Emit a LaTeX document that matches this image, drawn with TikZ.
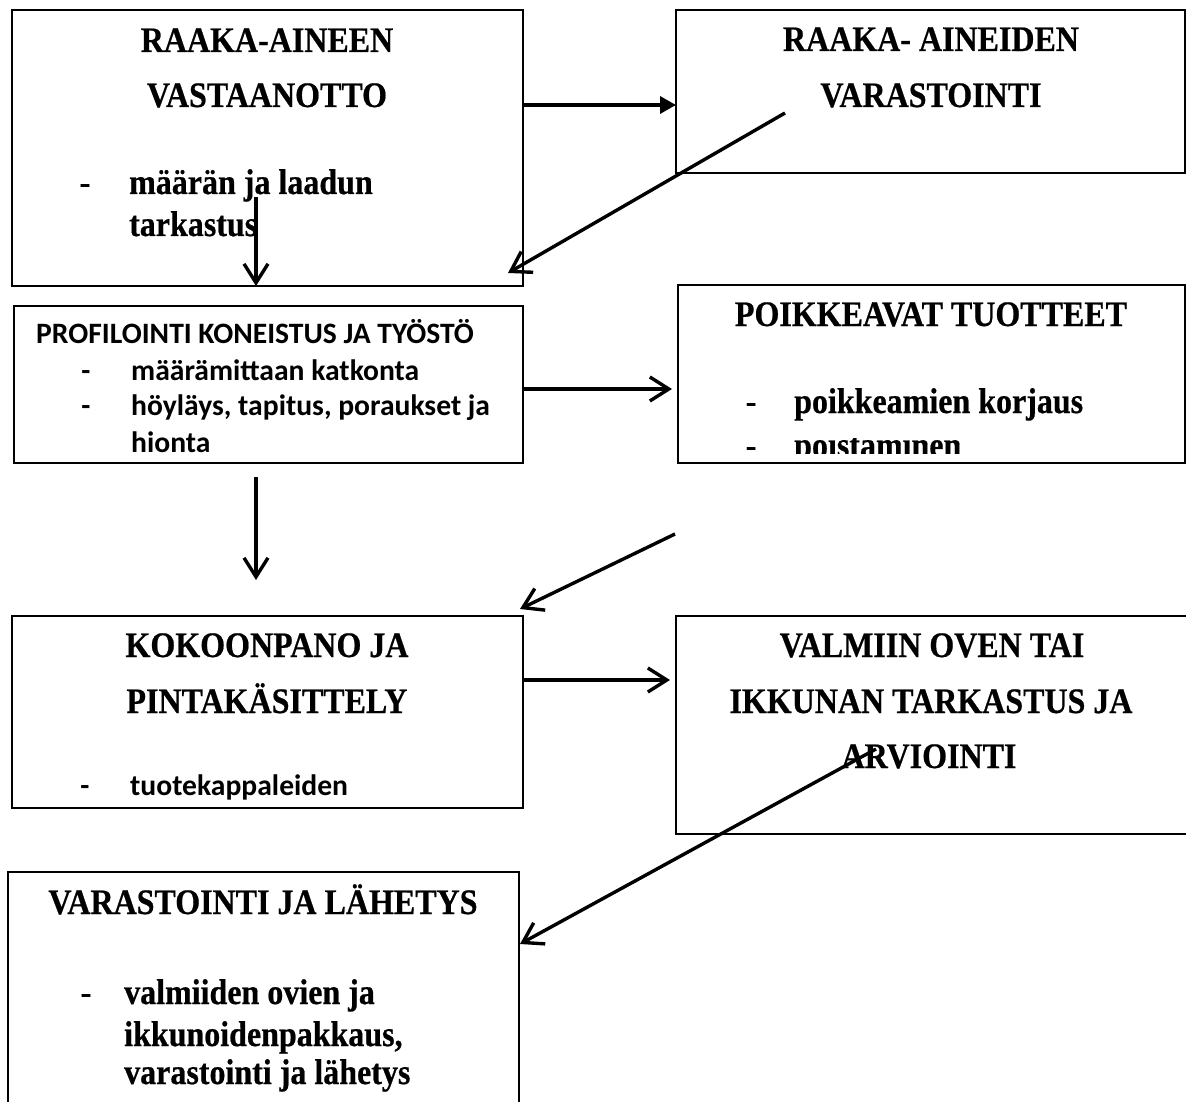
\documentclass[tikz,border=0pt]{standalone}
\usepackage{graphicx}
\usepackage{fontspec}
\setmainfont{Liberation Serif}[BoldFeatures={FakeBold=0.6}]
\newfontfamily\calib{Carlito}
\usetikzlibrary{arrows.meta}
\newcommand{\vs}[1]{\scalebox{1}[1.12]{#1}}
\tikzset{
  box/.style={draw=black, line width=2pt, inner sep=0pt, outer sep=0pt, anchor=north west, fill=none},
  ttl/.style={anchor=base, inner sep=0pt, font=\fontsize{32}{38}\selectfont\bfseries},
  itm/.style={anchor=base west, inner sep=0pt, font=\fontsize{32}{38}\selectfont\bfseries},
  citm/.style={anchor=base west, inner sep=0pt, font=\calib\fontsize{29.6}{33}\selectfont\bfseries},
  dsh/.style={anchor=base, inner sep=0pt, font=\fontsize{32}{38}\selectfont\bfseries},
  cdsh/.style={anchor=base, inner sep=0pt, font=\calib\fontsize{29.6}{33}\selectfont\bfseries},
  oarrow/.style={line width=3.4pt, -{Straight Barb[length=19pt,width=24pt,line width=3.4pt]}},
  farrow/.style={line width=3.4pt, -{Triangle[length=16pt,width=17pt]}}
}
\begin{document}
\begin{tikzpicture}[x=1pt,y=-1pt]
\useasboundingbox (0,0) rectangle (1186,1102);
\fill[white] (0,0) rectangle (1186,1102);

% boxes
\node[box, minimum width=511pt, minimum height=276pt] (b1) at (12,10) {};
\node[box, minimum width=509pt, minimum height=163pt] (b2) at (676,10) {};
\node[box, minimum width=509pt, minimum height=157pt] (b3) at (14,306) {};
\node[box, minimum width=507pt, minimum height=178pt] (b4) at (678,285) {};
\node[box, minimum width=511pt, minimum height=192pt] (b5) at (12,616) {};
\node[box, minimum width=530pt, minimum height=218pt] (b6) at (676,616) {};
\node[box, minimum width=511pt, minimum height=260pt] (b7) at (8,872) {};

% box 1 text
\node[ttl] (t1a) at (267,52) {\vs{RAAKA-AINEEN}};
\node[ttl] (t1b) at (267,107) {\vs{VASTAANOTTO}};
\node[dsh] (d1a) at (85,193) {-};
\node[itm] (t1c) at (129,194) {\vs{määrän ja laadun}};
\node[itm] (t1d) at (129,236) {\vs{tarkastus}};

% box 2 text
\node[ttl] (t2a) at (931,51) {\vs{RAAKA- AINEIDEN}};
\node[ttl] (t2b) at (931,107) {\vs{VARASTOINTI}};

% box 3 text
\node[citm] (t3a) at (36,343) {PROFILOINTI KONEISTUS JA TYÖSTÖ};
\node[cdsh] (d3a) at (86,380) {-};
\node[citm] (t3b) at (131,380) {määrämittaan katkonta};
\node[cdsh] (d3b) at (86,415) {-};
\node[citm] (t3c) at (131,415) {höyläys, tapitus, poraukset ja};
\node[citm] (t3d) at (131,452) {hionta};

% box 4 text
\node[ttl] (t4a) at (931,326) {\vs{POIKKEAVAT TUOTTEET}};
\node[dsh] (d4a) at (751,412) {-};
\node[itm] (t4b) at (794,413) {\vs{poikkeamien korjaus}};
\begin{scope}
\clip (680,438) rectangle (1180,453);
\node[dsh] (d4b) at (751,456) {-};
\node[itm] (t4c) at (794,457) {\vs{poistaminen}};
\end{scope}

% box 5 text
\node[ttl] (t5a) at (267,657) {\vs{KOKOONPANO JA}};
\node[ttl] (t5b) at (267,713) {\vs{PINTAKÄSITTELY}};
\node[cdsh] (d5a) at (85,795) {-};
\begin{scope}
\clip (20,760) rectangle (510,801);
\node[citm] (t5c) at (130,795) {tuotekappaleiden};
\end{scope}

% box 6 text
\node[ttl] (t6a) at (932,657) {\vs{VALMIIN OVEN TAI}};
\node[ttl] (t6b) at (931,713) {\vs{IKKUNAN TARKASTUS JA}};
\node[ttl] (t6c) at (929,768) {\vs{ARVIOINTI}};

% box 7 text
\node[ttl] (t7a) at (263,914) {\vs{VARASTOINTI JA LÄHETYS}};
\node[dsh] (d7a) at (86,1003) {-};
\node[itm] (t7b) at (124,1004) {\vs{valmiiden ovien ja}};
\node[itm] (t7c) at (124,1046) {\vs{ikkunoidenpakkaus,}};
\node[itm] (t7d) at (124,1084) {\vs{varastointi ja lähetys}};

% connector ends
\coordinate (a1y) at (0,105);
\coordinate (a2s) at (785,113);
\coordinate (a2e) at (508,273);
\coordinate (a3s) at (256,197);
\coordinate (a4y) at (0,389);
\coordinate (a5s) at (256,477);
\coordinate (a5e) at (256,580);
\coordinate (a6s) at (675,534);
\coordinate (a6e) at (520,609);
\coordinate (a7y) at (0,680);
\coordinate (a8s) at (876,749);
\coordinate (a8e) at (520,944);

% connectors
\draw[farrow] (b1.east |- a1y) -- (b2.west |- a1y);
\draw[oarrow] (a2s) -- (a2e);
\draw[oarrow] (a3s) -- (a3s |- b1.south);
\draw[oarrow] (b3.east |- a4y) -- ([xshift=-6pt]b4.west |- a4y);
\draw[oarrow] (a5s) -- (a5e);
\draw[oarrow] (a6s) -- (a6e);
\draw[oarrow] (b5.east |- a7y) -- ([xshift=-6pt]b6.west |- a7y);
\draw[oarrow] (a8s) -- (a8e);
\end{tikzpicture}
\end{document}
